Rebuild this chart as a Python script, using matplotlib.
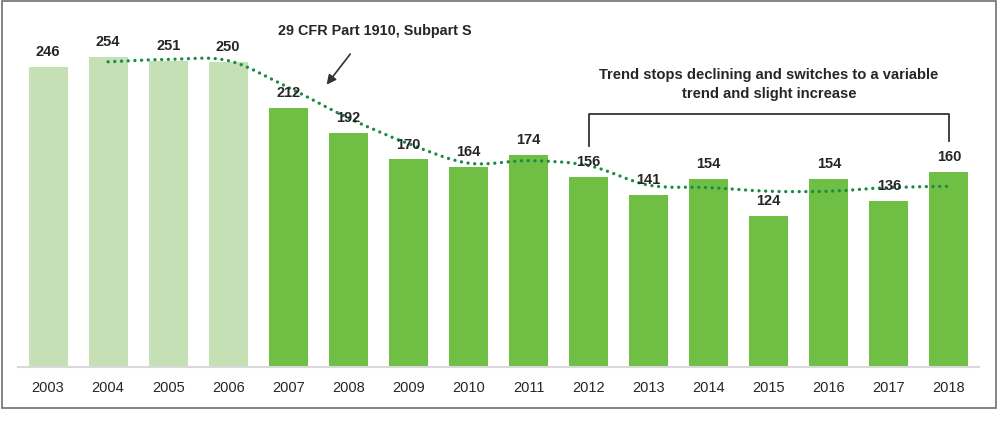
import matplotlib
matplotlib.use("Agg")
import matplotlib.pyplot as plt
from matplotlib.patches import PathPatch, Rectangle
from matplotlib.path import Path

years = [str(y) for y in range(2003, 2019)]
values = [246, 254, 251, 250, 212, 192, 170, 164, 174, 156, 141, 154, 124, 154, 136, 160]
# dotted trend line (starts at 2004)
trend_years = list(range(1, 16))
trend_vals = [250, 252, 251, 229, 204, 183, 167, 169, 165, 149, 147, 144, 144, 147, 148]

C_LIGHT = "#c5e0b4"
C_DARK = "#70bf45"
C_TREND = "#1a8a48"
TXT = "#262626"

fig = plt.figure(figsize=(10, 4.31), dpi=100)
ax = fig.add_axes([0.018, 1 - 368 / 431, 0.961, 354 / 431])

colors = [C_LIGHT if int(y) < 2007 else C_DARK for y in years]
x = list(range(len(years)))
ax.bar(x, values, width=0.65, color=colors, zorder=2)

for xi, v in zip(x, values):
    ax.annotate(f"{v}", (xi, v), xytext=(0, 11.5), textcoords="offset points",
                ha="center", va="center", fontsize=10.5, fontweight="bold",
                color=TXT, family=["Liberation Sans", "DejaVu Sans"], zorder=4)

# smooth trend curve (Catmull-Rom -> cubic Bezier through the read points)
pts = list(zip(trend_years, trend_vals))
verts = [pts[0]]
codes = [Path.MOVETO]
n = len(pts)
for i in range(n - 1):
    p0 = pts[max(i - 1, 0)]
    p1 = pts[i]
    p2 = pts[i + 1]
    p3 = pts[min(i + 2, n - 1)]
    c1 = (p1[0] + (p2[0] - p0[0]) / 6, p1[1] + (p2[1] - p0[1]) / 6)
    c2 = (p2[0] - (p3[0] - p1[0]) / 6, p2[1] - (p3[1] - p1[1]) / 6)
    verts += [c1, c2, p2]
    codes += [Path.CURVE4] * 3
trend = PathPatch(Path(verts, codes), fill=False, edgecolor=C_TREND, lw=2.4,
                  linestyle=(0, (0.01, 2.0)), capstyle="round", zorder=3)
ax.add_patch(trend)

ax.set_xlim(-0.5, 15.5)
ax.set_ylim(0, 290)
ax.set_xticks(x)
ax.set_xticklabels(years, fontsize=10.5, color=TXT, family=["Liberation Sans", "DejaVu Sans"])
ax.tick_params(axis="x", length=0, pad=9.5)
ax.set_yticks([])
for s in ["top", "left", "right"]:
    ax.spines[s].set_visible(False)
ax.spines["bottom"].set_color("#d9d9d9")
ax.spines["bottom"].set_linewidth(1.5)

ANN_FONT = ["Liberation Sans", "DejaVu Sans"]

# regulation annotation with arrow
ax.text(5.44, 276, "29 CFR Part 1910, Subpart S", ha="center", va="center",
        fontsize=10.4, fontweight="bold", color=TXT, family=ANN_FONT)
ax.annotate("", xy=(4.61, 229.5), xytext=(5.06, 258.2),
            arrowprops=dict(arrowstyle="-|>", color="#333333", lw=1.2, mutation_scale=14))

# bracket 2012-2018
ax.plot([9, 9, 15, 15], [181, 207.4, 207.4, 185], color="#333333", lw=1.3, clip_on=False)
ax.text(12.0, 232, "Trend stops declining and switches to a variable\ntrend and slight increase",
        ha="center", va="center", fontsize=10.6, fontweight="bold", color=TXT,
        family=ANN_FONT, linespacing=1.45)

# outer frame
fig.add_artist(Rectangle((0.0015, 1 - 409 / 431), 0.9945, 407 / 431, transform=fig.transFigure,
                         fill=False, edgecolor="#707070", lw=1.2))

fig.savefig("out.png", dpi=100, facecolor="white")
